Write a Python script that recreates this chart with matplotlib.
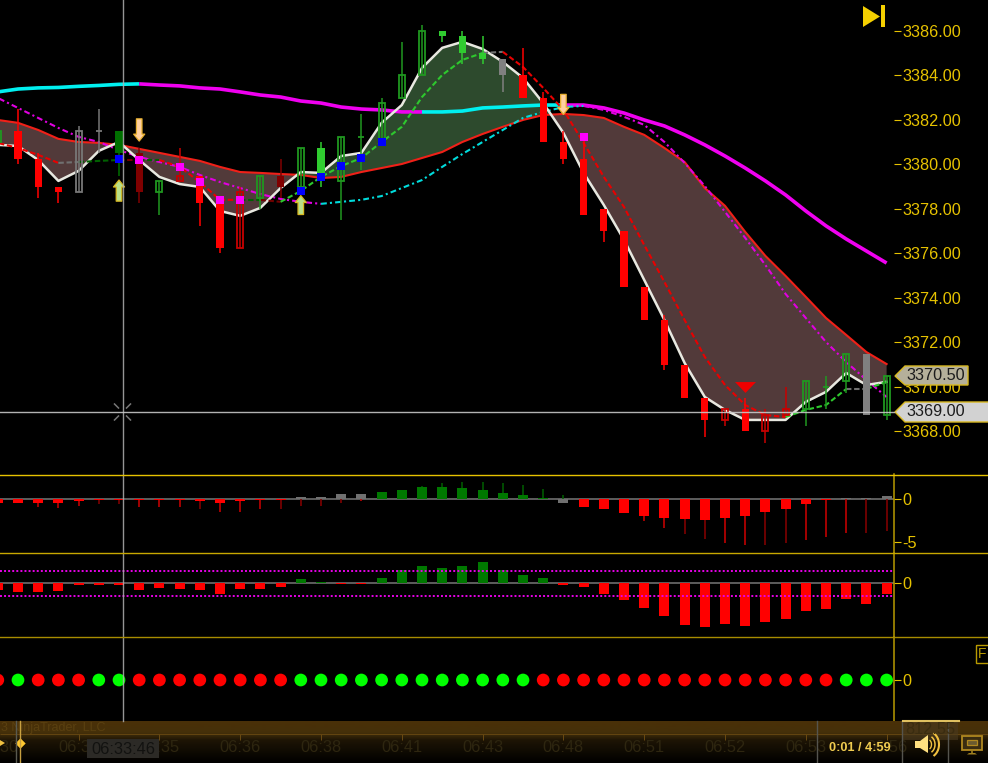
import matplotlib
matplotlib.use("Agg")
import matplotlib.pyplot as plt
import numpy as np
from matplotlib.colors import LinearSegmentedColormap
from matplotlib.patches import FancyArrowPatch, Polygon, Rectangle

plt.rcParams['font.family'] = ['Liberation Sans', 'DejaVu Sans']

# price candles, one entry per bar
body_top = [3381.5,3381.5,3380.25,3379.0,3381.5,3381.5,3381.5,3380.5,3379.25,3379.5,
            3379.5,3378.5,3378.75,3379.5,3379.5,3380.75,3380.75,3381.25,3381.25,3382.75,
            3384.0,3386.0,3386.0,3385.75,3385.0,3384.75,3384.0,3383.0,3381.0,3380.25,
            3378.0,3377.0,3374.5,3373.0,3371.0,3369.5,3369.0,3369.0,3368.75,3369.0,
            3370.25,3370.0,3371.5,3371.5,3370.5]
body_bot = [3381.0,3380.25,3379.0,3378.75,3378.75,3381.5,3380.5,3378.75,3378.75,3379.25,
            3378.25,3376.25,3376.25,3378.5,3379.0,3379.0,3379.25,3379.25,3381.25,3381.0,
            3383.0,3384.0,3385.75,3385.0,3384.75,3384.0,3383.0,3381.0,3380.25,3377.75,
            3377.0,3374.5,3373.0,3371.0,3369.5,3368.5,3368.5,3368.0,3368.0,3368.75,
            3369.0,3370.0,3370.25,3368.75,3368.75]
wick_high = [3381.5,3382.5,3380.5,3379.0,3381.75,3382.5,3381.5,3380.75,3379.25,3380.75,
             3379.5,3378.5,3379.0,3379.5,3380.25,3380.75,3381.0,3381.25,3382.25,3383.0,
             3385.5,3386.25,3386.0,3386.0,3385.75,3384.75,3385.25,3383.25,3381.5,3381.25,
             3378.0,3377.0,3374.5,3373.25,3371.0,3369.5,3369.0,3369.5,3369.0,3370.0,
             3370.25,3370.5,3371.5,3371.5,3370.5]
wick_low = [3381.0,3380.0,3378.5,3378.25,3378.75,3380.5,3379.5,3378.25,3377.75,3379.25,
            3377.25,3376.0,3376.25,3378.0,3378.5,3379.0,3379.0,3377.5,3379.75,3381.0,
            3383.0,3384.0,3385.5,3384.5,3384.5,3383.25,3383.0,3381.0,3380.0,3377.75,
            3376.5,3374.5,3373.0,3370.75,3369.5,3367.75,3368.25,3368.0,3367.5,3368.75,
            3368.25,3369.0,3369.75,3368.75,3368.5]
candle_kind = "HRRRYYDKHORROHKHSHHHHHSSSG" + "RRRRRRRRRR" + "OROOHHHGH"

# moving averages
fast_ma = [3380.88,3380.83,3380.20,3379.26,3379.71,3380.61,3381.01,3380.20,3379.44,3379.12,
           3378.99,3377.91,3377.69,3378.05,3378.94,3379.66,3379.62,3380.38,3380.52,3381.87,
           3382.67,3384.34,3385.24,3385.51,3385.19,3384.61,3383.89,3382.76,3381.42,3379.62,
           3378.18,3376.61,3374.81,3373.01,3371.08,3369.55,3368.97,3368.52,3368.52,3368.52,
           3369.33,3369.78,3370.63,3370.09,3370.23]
cloud_ma = [3382.00,3381.87,3381.55,3381.15,3381.01,3380.97,3380.88,3380.70,3380.52,3380.34,
            3380.16,3379.89,3379.66,3379.62,3379.57,3379.53,3379.39,3379.44,3379.66,3379.84,
            3380.02,3380.29,3380.56,3381.01,3381.37,3381.69,3382.00,3382.22,3382.27,3382.22,
            3382.09,3381.69,3381.33,3380.74,3380.11,3378.94,3378.14,3376.97,3375.89,3374.99,
            3374.05,3373.10,3372.34,3371.57,3371.03]
signal_ma = [3380.97,3380.74,3380.43,3380.07,3380.11,3380.16,3380.20,3380.20,3380.20,3379.89,
             3379.21,3378.41,3378.41,3378.41,3378.32,3378.81,3379.44,3379.93,3380.29,3381.01,
             3381.69,3383.03,3384.02,3384.70,3385.01,3385.06,3384.38,3383.44,3382.45,3380.97,
             3379.44,3378.09,3376.38,3374.72,3373.01,3371.35,3370.09,3369.19,3368.74,3368.65,
             3368.97,3369.19,3369.91,3369.91,3370.23]
signal_state = "rrrrgddkd" + "rrrr" + "dk" + "llllllllll" + "g" + "r"*14 + "lll" + "g" + "l"
mid_ma = [3382.99,3382.54,3382.09,3381.64,3381.24,3381.01,3380.65,3380.34,3380.11,3379.89,
          3379.53,3379.21,3378.94,3378.67,3378.45,3378.32,3378.23,3378.32,3378.41,3378.58,
          3378.94,3379.30,3379.89,3380.47,3381.01,3381.55,3382.09,3382.36,3382.58,3382.63,
          3382.45,3382.14,3381.78,3381.01,3380.07,3379.03,3377.87,3376.70,3375.48,3374.18,
          3373.10,3372.02,3371.12,3370.32,3369.55]
mid_state = "m"*17 + "c"*13 + "m"*15
slow_ma = [3383.26,3383.39,3383.44,3383.46,3383.51,3383.55,3383.60,3383.62,3383.57,3383.53,
           3383.44,3383.39,3383.26,3383.12,3383.03,3382.85,3382.76,3382.58,3382.49,3382.45,
           3382.36,3382.36,3382.36,3382.40,3382.54,3382.58,3382.63,3382.67,3382.67,3382.67,
           3382.54,3382.31,3382.00,3381.73,3381.33,3380.88,3380.38,3379.84,3379.26,3378.63,
           3377.91,3377.24,3376.65,3376.11,3375.57]
slow_state = "c"*8 + "m"*14 + "c"*7 + "m"*16

# signals on the price panel
blue_bars = [6, 15, 16, 17, 18, 19]
blue_prices = [3380.25, 3378.81, 3379.44, 3379.93, 3380.29, 3381.01]
pink_bars = [7, 9, 10, 11, 12, 29]
pink_prices = [3380.20, 3379.89, 3379.21, 3378.41, 3378.41, 3381.25]
up_arrows = [(6, 3378.35, 3379.3), (15, 3377.75, 3378.6)]
down_arrows = [(7, 3382.05, 3381.05), (28, 3383.15, 3382.25)]
sell_bar = 37
sell_price = 3369.98

# histogram panel
hist_body = [-0.45,-0.45,-0.55,-0.55,-0.3,-0.1,-0.1,-0.2,-0.2,-0.2,-0.3,-0.55,-0.3,-0.1,-0.1,
             0.25,0.25,0.5,0.5,0.75,1.0,1.35,1.35,1.25,1.0,0.65,0.4,0.05,-0.55,-1.0,
             -1.25,-1.7,-2.0,-2.2,-2.35,-2.45,-2.2,-2.0,-1.6,-1.15,-0.65,-0.2,0.1,0.1,0.35]
hist_wick = [-0.45,-0.55,-0.95,-1.1,-0.8,-0.6,-0.6,-0.95,-0.95,-0.95,-1.2,-1.55,-1.55,-1.25,-1.2,
             -0.8,-0.8,-0.45,-0.25,0.75,1.0,1.45,1.8,1.9,1.9,1.8,1.55,1.1,0.45,-1.0,
             -1.25,-1.7,-2.6,-3.4,-4.1,-4.7,-5.1,-5.35,-5.35,-5.2,-4.85,-4.5,-4.0,-4.0,-3.7]
hist_state = "R"*15 + "G"*4 + "U"*9 + "G" + "R"*13 + "G"*3
dark_wicks = [5, 6, 10, 14, 15, 16, 17, 34, 35, 38, 39, 43, 44]

# oscillator panel
osc_values = [-0.5,-0.65,-0.65,-0.6,-0.13,-0.13,-0.13,-0.53,-0.37,-0.45,-0.53,-0.84,-0.45,-0.45,-0.29,
              0.34,0.1,-0.05,-0.05,0.42,1.05,1.37,1.21,1.37,1.68,1.05,0.66,0.42,-0.13,-0.29,
              -0.84,-1.32,-1.97,-2.61,-3.32,-3.47,-3.24,-3.39,-3.08,-2.84,-2.18,-2.03,-1.24,-1.63,-0.84]
osc_levels = [1, -1]

# dot panel
dot_state = "RGRRRGG" + "R"*8 + "G"*12 + "R"*15 + "GGG"

time_bars = [0, 4, 8, 12, 16, 20, 24, 28, 32, 36, 40, 44]
time_labels = ["06:30", "06:33", "06:35", "06:36", "06:38", "06:41",
               "06:43", "06:48", "06:51", "06:52", "06:53", "06:56"]
price_ticks = [3368, 3370, 3372, 3374, 3376, 3378, 3380, 3382, 3384, 3386]

GOLD = "#e6c200"
W, H = 988, 763
bars = np.arange(len(body_top))
x_left, x_right = 0.109, 44.366


def add_panel(top, bottom):
    ax = fig.add_axes([0, 1 - bottom / H, 894 / W, (bottom - top) / H], facecolor="black")
    ax.set_xlim(x_left, x_right)
    ax.set_xticks([])
    for s in ["top", "left", "bottom"]:
        ax.spines[s].set_visible(False)
    ax.spines["right"].set_color("#b89a00")
    ax.spines["right"].set_linewidth(1.1)
    ax.yaxis.tick_right()
    ax.tick_params(axis="y", colors=GOLD, length=5, width=0.8, pad=1, labelsize=11.7)
    return ax


def draw_runs(ax, y, state, colors, **kw):
    # one line per stretch of the same colour
    start = 0
    for i in range(1, len(y)):
        if i == len(y) - 1 or state[i + 1] != state[i]:
            ax.plot(bars[start:i + 1], y[start:i + 1], color=colors[state[i]], **kw)
            start = i


fig = plt.figure(figsize=(W / 100, H / 100), dpi=100, facecolor="black")

# price panel
ax = add_panel(0, 474)
ax.spines["right"].set_visible(False)
ax.set_ylim(3366.09, 3387.39)
ax.set_yticks(price_ticks)
ax.set_yticklabels(["%.2f" % p for p in price_ticks])

fast = np.array(fast_ma)
cloud = np.array(cloud_ma)
ax.fill_between(bars, fast, cloud, where=fast <= cloud, interpolate=True, color="#523a3a", lw=0)
ax.fill_between(bars, fast, cloud, where=fast >= cloud, interpolate=True, color="#2d4a2d", lw=0)

ax.plot(bars, cloud, color="#f02018", lw=1.5)
draw_runs(ax, slow_ma, slow_state, {"c": "#00f0f0", "m": "#f000f0"}, lw=2.6, solid_capstyle="butt")
draw_runs(ax, mid_ma, mid_state, {"c": "#00dcdc", "m": "#e000e0"}, lw=1.5, ls=(0, (2.8, 1.5, 1, 1.5)))
ax.plot(bars, fast, color="#e8e8e0", lw=1.8)
draw_runs(ax, signal_ma, signal_state,
          {"r": "#e80000", "g": "#707070", "d": "#006000", "k": "#700000", "l": "#2ec82e"},
          lw=1.5, ls=(0, (2.6, 1.3)))

candle_fill = {"R": "#ff0000", "K": "#800000", "S": "#30cc30", "D": "#007000", "G": "#808080"}
candle_edge = {"H": "#209820", "O": "#c80000", "Y": "#787878"}
for i in bars:
    kind = candle_kind[i]
    col = candle_fill.get(kind, candle_edge.get(kind))
    ax.vlines(i, wick_low[i], wick_high[i], color=col, lw=1.1, zorder=4)
    if kind in candle_fill:
        ax.bar(i, body_top[i] - body_bot[i], 0.35, body_bot[i], color=col, lw=0, zorder=5)
    else:
        ax.bar(i, body_top[i] - body_bot[i], 0.3, body_bot[i], facecolor="none",
               edgecolor=col, lw=1.3, zorder=5)

ax.scatter(blue_bars, blue_prices, marker="s", s=33, color="#0000ff", lw=0, zorder=7)
ax.scatter(pink_bars, pink_prices, marker="s", s=33, color="#ff00ff", lw=0, zorder=7)
ax.scatter([sell_bar], [sell_price], marker=[(-1, 0.52), (1, 0.52), (0, -0.52)], s=227,
           color="#f00000", lw=0, zorder=7)
for b, lo, hi in up_arrows:
    ax.add_patch(FancyArrowPatch((b, lo), (b, hi), arrowstyle="simple,head_length=5,head_width=8,tail_width=4",
                                 mutation_scale=1, shrinkA=0, shrinkB=0, fc="#b8e088", ec="#d8b820", lw=0.9, zorder=8))
for b, hi, lo in down_arrows:
    ax.add_patch(FancyArrowPatch((b, hi), (b, lo), arrowstyle="simple,head_length=5,head_width=8,tail_width=4",
                                 mutation_scale=1, shrinkA=0, shrinkB=0, fc="#ffd0a0", ec="#e8b030", lw=0.9, zorder=8))

# histogram
ax2 = add_panel(474, 553)
ax2.set_ylim(-6.31, 2.87)
ax2.set_yticks([0, -5])
ax2.set_yticklabels(["0", "-5"])
ax2.axhline(0, color="#777777", lw=1.1, zorder=1)
hist_colors = {"R": "#ff0000", "G": "#707070", "U": "#007800"}
wick_colors = []
for i in bars:
    if hist_wick[i] < 0:
        wick_colors.append("#8a0000" if i in dark_wicks else "#d00000")
    else:
        wick_colors.append("#006000")
ax2.vlines(bars, 0, hist_wick, colors=wick_colors, lw=1.1, zorder=2)
ax2.bar(bars, hist_body, 0.5, color=[hist_colors[s] for s in hist_state], lw=0, zorder=3)

# oscillator
ax3 = add_panel(553, 637)
ax3.set_ylim(-4.24, 2.39)
ax3.set_yticks([0])
ax3.axhline(0, color="#777777", lw=1.1, zorder=1)
ax3.bar(bars, osc_values, 0.5, color=["#ff0000" if v < 0 else "#007800" for v in osc_values], lw=0, zorder=2)
for level in osc_levels:
    ax3.axhline(level, color="#e800e8", lw=1.4, ls=(0, (1, 1.1)), zorder=3)

# dots
ax4 = add_panel(637, 721)
ax4.set_ylim(-4.1, 4.3)
ax4.set_yticks([0])
ax4.scatter(bars, np.zeros(len(bars)), s=84, lw=0, clip_on=False,
            color=["#00ff00" if s == "G" else "#ff0000" for s in dot_state], zorder=3)

# time bar along the bottom
ax_t = fig.add_axes([0, 0, 1, 42 / H], facecolor="black")
t_right = (W + 2.2) / 20.2
strip = LinearSegmentedColormap.from_list(
    "strip", [(0, "#4a3008"), (0.28, "#45300a"), (0.45, "#1e1505"), (1, "#000000")])
ax_t.imshow(np.linspace(0, 1, 64)[:, None], cmap=strip, aspect="auto", extent=[x_left, t_right, 42, 0])
ax_t.set_xlim(x_left, t_right)
ax_t.set_ylim(42, 0)
ax_t.axis("off")
ax_t.hlines(12.5, x_left, t_right, color="#6a4a12", lw=0.6)
ax_t.vlines(time_bars, 12.5, 19, color="#6a4a12", lw=0.7)
for b, lab in zip(time_bars, time_labels):
    ax_t.text(b, 27, lab, color="#2e2610", fontsize=11.8, ha="center", va="center")
ax_t.text(0.15, 6.5, "3 NinjaTrader, LLC", color="#5a4010", fontsize=9, va="center")

# things that sit on top of the panels, in screen pixels
ov = fig.add_axes([0, 0, 1, 1], facecolor="none")
ov.set_xlim(0, W)
ov.set_ylim(H, 0)
ov.axis("off")

ov.plot([122.5, 122.5], [0, 721], color="#b0b0b0", lw=1.0, alpha=0.85)
ov.plot([0, 894], [412, 412], color="#c8c8c8", lw=1.0, alpha=0.9)
for sx, sy in [(-1, -1), (1, -1), (-1, 1), (1, 1)]:
    ov.plot([122.5 + 4 * sx, 122.5 + 8 * sx], [412 + 4 * sy, 412 + 8 * sy], color="#777777", lw=1.1)

for y, c in [(474.5, GOLD), (553, "#c8a800"), (637, "#a88c00")]:
    ov.plot([0, W], [y, y], color=c, lw=1.0)

ov.add_patch(Polygon([(863, 6), (863, 27), (880, 16.5)], fc="#f5d000", ec="none"))
ov.add_patch(Rectangle((880.5, 5), 4, 22, fc="#f5d000", ec="none"))

ov.add_patch(Polygon([(895, 376), (905, 366), (968, 366), (968, 385), (905, 385)],
                     fc="#b5b09a", ec="#d8b820", lw=1.0))
ov.text(906, 376, "3370.50", color="#1c1c1c", fontsize=11.7, va="center")
ov.add_patch(Polygon([(895, 412), (905, 402), (992, 402), (992, 422), (905, 422)],
                     fc="#d2d2d2", ec="#d8b820", lw=1.0))
ov.text(906, 412, "3369.00", color="#1c1c1c", fontsize=11.7, va="center")

ov.add_patch(Rectangle((975.5, 645), 16, 18, fc="none", ec="#b89a00", lw=1.0))
ov.text(978, 654.5, "F", color="#b89a00", fontsize=10, va="center")

# player controls
ov.add_patch(Rectangle((87, 739), 72, 19, fc="#2c2a26", ec="none"))
ov.text(123, 749, "06:33:46", color="#121210", fontsize=11.8, ha="center", va="center")
ov.plot([16, 16], [721, 763], color="#5a5a50", lw=1.0)
ov.plot([20, 20], [721, 763], color="#c8a040", lw=1.0)
ov.scatter([20], [743], marker="D", s=28, color="#ffc830", lw=0)
ov.add_patch(Polygon([(0, 740), (0, 746), (5, 743)], fc="#f0c040", ec="none"))
for vx in [817, 902, 948]:
    ov.plot([vx, vx], [721, 763], color="#55544e", lw=1.0)
ov.add_patch(Rectangle((903, 721), 55, 19, fc="#4a3a20", ec="none", alpha=0.6))
ov.plot([903, 959], [720.5, 720.5], color="#e0c060", lw=1.5)
ov.text(930, 730, "812.55", color="#3a2c10", fontsize=11.8, ha="center", va="center")
ov.text(860, 748, "0:01 / 4:59", color="#f0cc50", fontsize=9.2, fontweight="bold", ha="center", va="center")

ov.add_patch(Polygon([(915, 741), (920, 741), (928, 735), (928, 753), (920, 748), (915, 748)],
                     fc="#ffe080", ec="none"))
for rx, th in [(3.5, 1.0), (7, 1.1), (11, 1.5)]:
    ang = np.radians(np.arange(-55, 56, 5))
    ov.plot(928 + rx * np.cos(ang), 744.5 + (rx + 1) * np.sin(ang) * 1.1, color="#f0c040", lw=th)

ov.add_patch(Rectangle((962, 735.5), 20, 14, fc="#3a2c10", ec="#b08820", lw=1.3))
ov.add_patch(Rectangle((967, 740), 10, 5, fc="#6a5a30", ec="#b08820", lw=0.9))
ov.add_patch(Polygon([(969, 753), (975, 753), (977, 754.5), (967, 754.5)], fc="#a08020", ec="none"))
ov.plot([972, 972], [749.5, 753], color="#a08020", lw=1.2)

plt.savefig("out.png", dpi=100, facecolor="black")
